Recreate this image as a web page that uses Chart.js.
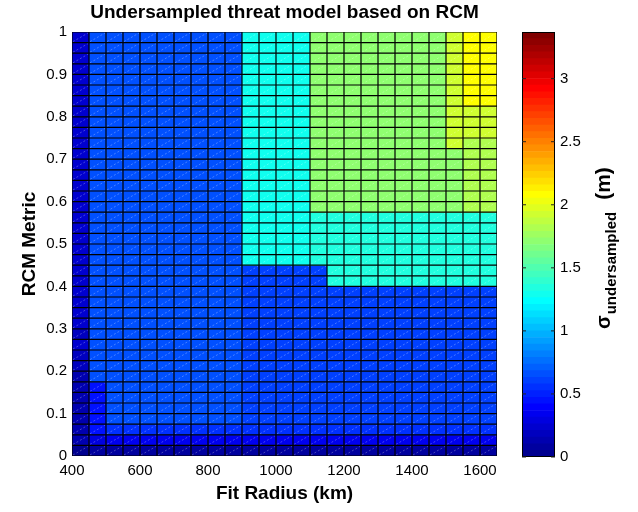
<!DOCTYPE html>
<html>
<head>
<meta charset="utf-8">
<script src="https://cdn.jsdelivr.net/npm/chart.js@4.4.1/dist/chart.umd.min.js"></script>
<style>
  html, body { margin: 0; padding: 0; background: #fff; }
  #wrap { position: relative; width: 638px; height: 512px; }
  #heat { position: absolute; left: 0; top: 0; }
  #bar { position: absolute; left: 500px; top: 0; }
</style>
</head>
<body>
<div id="wrap">
  <canvas id="heat" width="638" height="512"></canvas>
  <canvas id="bar" width="138" height="512"></canvas>
</div>
<script>
// cell edges (Fit Radius in km, RCM metric)
const xEdges = [400, 450, 500, 550, 600, 650, 700, 750, 800, 850, 900, 950, 1000,
                1050, 1100, 1150, 1200, 1250, 1300, 1350, 1400, 1450, 1500, 1550, 1600, 1650];
const yEdges = [0, 0.025, 0.05, 0.075, 0.1, 0.125, 0.15, 0.175, 0.2, 0.225, 0.25, 0.275,
                0.3, 0.325, 0.35, 0.375, 0.4, 0.425, 0.45, 0.475, 0.5, 0.525, 0.55, 0.575,
                0.6, 0.625, 0.65, 0.675, 0.7, 0.725, 0.75, 0.775, 0.8, 0.825, 0.85, 0.875,
                0.9, 0.925, 0.95, 0.975, 1];

// sigma undersampled (m), one row per RCM band, first row = bottom
const sigma = [
  [0.03,0.08,0.08,0.08,0.08,0.08,0.08,0.08,0.08,0.08,0.08,0.08,0.08,0.08,0.08,0.08,0.08,0.08,0.08,0.08,0.08,0.08,0.08,0.08,0.08],
  [0.13,0.28,0.34,0.34,0.34,0.34,0.34,0.34,0.34,0.34,0.34,0.34,0.34,0.34,0.34,0.34,0.34,0.34,0.34,0.34,0.34,0.34,0.34,0.34,0.34],
  [0.13,0.45,0.55,0.55,0.55,0.55,0.55,0.55,0.55,0.55,0.55,0.55,0.55,0.55,0.55,0.55,0.55,0.55,0.55,0.55,0.55,0.55,0.55,0.55,0.55],
  [0.13,0.45,0.66,0.66,0.66,0.66,0.66,0.66,0.66,0.66,0.61,0.61,0.61,0.61,0.61,0.61,0.61,0.61,0.61,0.61,0.61,0.61,0.61,0.61,0.61],
  [0.13,0.45,0.66,0.66,0.66,0.66,0.66,0.66,0.66,0.66,0.61,0.61,0.61,0.61,0.61,0.61,0.61,0.61,0.61,0.61,0.61,0.61,0.61,0.61,0.61],
  [0.13,0.45,0.66,0.66,0.66,0.66,0.66,0.66,0.66,0.66,0.61,0.61,0.61,0.61,0.61,0.61,0.61,0.61,0.61,0.61,0.61,0.61,0.61,0.61,0.61],
  [0.13,0.45,0.66,0.66,0.66,0.66,0.66,0.66,0.66,0.66,0.61,0.61,0.61,0.61,0.61,0.61,0.61,0.61,0.61,0.61,0.61,0.61,0.61,0.61,0.61],
  [0.13,0.66,0.66,0.66,0.66,0.66,0.66,0.66,0.66,0.66,0.61,0.61,0.61,0.61,0.61,0.61,0.61,0.61,0.61,0.61,0.61,0.61,0.61,0.61,0.61],
  [0.18,0.66,0.66,0.66,0.66,0.66,0.66,0.66,0.66,0.66,0.61,0.61,0.61,0.61,0.61,0.61,0.61,0.61,0.61,0.61,0.61,0.61,0.61,0.61,0.61],
  [0.18,0.66,0.66,0.66,0.66,0.66,0.66,0.66,0.66,0.66,0.61,0.61,0.61,0.61,0.61,0.61,0.61,0.61,0.61,0.61,0.61,0.61,0.61,0.61,0.61],
  [0.24,0.66,0.66,0.66,0.66,0.66,0.66,0.66,0.66,0.66,0.61,0.61,0.61,0.61,0.61,0.61,0.61,0.61,0.61,0.61,0.61,0.61,0.61,0.61,0.61],
  [0.18,0.66,0.66,0.66,0.66,0.66,0.66,0.66,0.66,0.66,0.61,0.61,0.61,0.61,0.61,0.61,0.61,0.61,0.61,0.61,0.61,0.61,0.61,0.61,0.61],
  [0.24,0.66,0.66,0.66,0.66,0.66,0.66,0.66,0.66,0.66,0.61,0.61,0.61,0.61,0.61,0.61,0.61,0.61,0.61,0.61,0.61,0.61,0.61,0.61,0.61],
  [0.24,0.66,0.66,0.66,0.66,0.66,0.66,0.66,0.66,0.66,0.61,0.61,0.61,0.61,0.61,0.61,0.61,0.61,0.61,0.61,0.61,0.61,0.61,0.61,0.61],
  [0.24,0.66,0.66,0.66,0.66,0.66,0.66,0.66,0.66,0.66,0.61,0.61,0.61,0.61,0.61,0.61,0.61,0.61,0.61,0.61,0.61,0.61,0.61,0.61,0.61],
  [0.24,0.66,0.66,0.66,0.66,0.66,0.66,0.66,0.66,0.66,0.61,0.61,0.61,0.61,0.61,0.61,0.61,0.61,0.61,0.61,0.61,0.61,0.61,0.61,0.61],
  [0.24,0.66,0.66,0.66,0.66,0.66,0.66,0.66,0.66,0.66,0.61,0.61,0.61,0.61,0.61,1.34,1.34,1.34,1.34,1.34,1.34,1.34,1.34,1.34,1.34],
  [0.24,0.66,0.66,0.66,0.66,0.66,0.66,0.66,0.66,0.66,0.61,0.61,0.61,0.61,0.61,1.34,1.34,1.34,1.34,1.34,1.34,1.34,1.34,1.34,1.34],
  [0.24,0.66,0.66,0.66,0.66,0.66,0.66,0.66,0.66,0.66,1.29,1.29,1.29,1.29,1.34,1.34,1.34,1.34,1.34,1.34,1.34,1.34,1.34,1.34,1.34],
  [0.24,0.66,0.66,0.66,0.66,0.66,0.66,0.66,0.66,0.66,1.29,1.29,1.29,1.29,1.34,1.34,1.34,1.34,1.34,1.34,1.34,1.34,1.34,1.34,1.34],
  [0.24,0.66,0.66,0.66,0.66,0.66,0.66,0.66,0.66,0.66,1.29,1.29,1.29,1.29,1.34,1.34,1.34,1.34,1.34,1.34,1.34,1.34,1.34,1.34,1.34],
  [0.24,0.66,0.66,0.66,0.66,0.66,0.66,0.66,0.66,0.66,1.29,1.29,1.29,1.29,1.34,1.34,1.34,1.34,1.34,1.34,1.34,1.34,1.34,1.34,1.34],
  [0.24,0.66,0.66,0.66,0.66,0.66,0.66,0.66,0.66,0.66,1.29,1.29,1.29,1.29,1.34,1.34,1.34,1.34,1.34,1.34,1.34,1.34,1.34,1.34,1.34],
  [0.24,0.66,0.66,0.66,0.66,0.66,0.66,0.66,0.66,0.66,1.29,1.29,1.29,1.29,1.71,1.71,1.71,1.71,1.71,1.71,1.71,1.71,1.71,1.82,1.82],
  [0.24,0.66,0.66,0.66,0.66,0.66,0.66,0.66,0.66,0.66,1.29,1.29,1.29,1.29,1.71,1.71,1.71,1.71,1.71,1.71,1.71,1.71,1.71,1.82,1.82],
  [0.24,0.66,0.66,0.66,0.66,0.66,0.66,0.66,0.66,0.66,1.29,1.29,1.29,1.29,1.71,1.71,1.71,1.71,1.71,1.71,1.71,1.71,1.71,1.82,1.82],
  [0.24,0.66,0.66,0.66,0.66,0.66,0.66,0.66,0.66,0.66,1.29,1.29,1.29,1.29,1.71,1.71,1.71,1.71,1.71,1.71,1.71,1.71,1.71,1.82,1.82],
  [0.24,0.66,0.66,0.66,0.66,0.66,0.66,0.66,0.66,0.66,1.29,1.29,1.29,1.29,1.71,1.71,1.71,1.71,1.71,1.71,1.71,1.71,1.71,1.82,1.82],
  [0.24,0.66,0.66,0.66,0.66,0.66,0.66,0.66,0.66,0.66,1.29,1.29,1.29,1.29,1.71,1.71,1.71,1.71,1.71,1.71,1.71,1.71,1.71,1.82,1.82],
  [0.24,0.66,0.66,0.66,0.66,0.66,0.66,0.66,0.66,0.66,1.29,1.29,1.29,1.29,1.71,1.71,1.71,1.71,1.71,1.71,1.71,1.71,1.92,1.82,1.82],
  [0.24,0.66,0.66,0.66,0.66,0.66,0.66,0.66,0.66,0.66,1.29,1.29,1.29,1.29,1.71,1.71,1.71,1.71,1.71,1.71,1.71,1.71,1.92,1.92,1.92],
  [0.24,0.66,0.66,0.66,0.66,0.66,0.66,0.66,0.66,0.66,1.29,1.29,1.29,1.29,1.71,1.71,1.71,1.71,1.71,1.71,1.71,1.71,1.92,1.92,1.92],
  [0.24,0.66,0.66,0.66,0.66,0.66,0.66,0.66,0.66,0.66,1.29,1.29,1.29,1.29,1.71,1.71,1.71,1.71,1.71,1.71,1.71,1.71,1.92,1.92,1.92],
  [0.24,0.66,0.66,0.66,0.66,0.66,0.66,0.66,0.66,0.66,1.29,1.29,1.29,1.29,1.71,1.71,1.71,1.71,1.71,1.71,1.71,1.71,1.92,2.08,2.08],
  [0.24,0.66,0.66,0.66,0.66,0.66,0.66,0.66,0.66,0.66,1.29,1.29,1.29,1.29,1.71,1.71,1.71,1.71,1.71,1.71,1.71,1.71,1.92,2.08,2.08],
  [0.24,0.66,0.66,0.66,0.66,0.66,0.66,0.66,0.66,0.66,1.29,1.29,1.29,1.29,1.71,1.71,1.71,1.71,1.71,1.71,1.71,1.71,1.92,2.08,2.08],
  [0.24,0.66,0.66,0.66,0.66,0.66,0.66,0.66,0.66,0.66,1.29,1.29,1.29,1.29,1.71,1.71,1.71,1.71,1.71,1.71,1.71,1.71,1.92,2.08,2.08],
  [0.24,0.66,0.66,0.66,0.66,0.66,0.66,0.66,0.66,0.66,1.29,1.29,1.29,1.29,1.71,1.71,1.71,1.71,1.71,1.71,1.71,1.71,1.92,2.08,2.08],
  [0.24,0.66,0.66,0.66,0.66,0.66,0.66,0.66,0.66,0.66,1.29,1.29,1.29,1.29,1.71,1.71,1.71,1.71,1.71,1.71,1.71,1.71,1.92,2.08,2.08],
  [0.24,0.66,0.66,0.66,0.66,0.66,0.66,0.66,0.66,0.66,1.29,1.29,1.29,1.29,1.71,1.71,1.71,1.71,1.71,1.71,1.71,1.71,1.92,2.08,2.08]
];

// colour limits of the colorbar
const cMin = 0;
const cMax = 3.37;
const nColors = 64;

const FONT = '"Liberation Sans", Arial, Helvetica, sans-serif';

// matlab jet, k = 1..64
function jet(k) {
  const t = k / nColors;
  const f = v => Math.round(255 * Math.max(0, Math.min(1, 1.5 - Math.abs(4 * t - v))));
  return 'rgb(' + f(3) + ',' + f(2) + ',' + f(1) + ')';
}
function colorFor(v) {
  let k = Math.floor((v - cMin) / (cMax - cMin) * nColors) + 1;
  k = Math.max(1, Math.min(nColors, k));
  return jet(k);
}
// plain tick text, no thousands separator, no trailing zero
const plainTick = v => String(Math.round(v * 10) / 10);

// draws the cells, the faint diagonals and the black cell edges
const heatPlugin = {
  id: 'heat',
  beforeDatasetsDraw(chart) {
    const {ctx, chartArea, scales: {x, y}} = chart;
    ctx.save();
    ctx.beginPath();
    ctx.rect(chartArea.left, chartArea.top, chartArea.right - chartArea.left, chartArea.bottom - chartArea.top);
    ctx.clip();
    for (let r = 0; r < sigma.length; r++) {
      const y0 = y.getPixelForValue(yEdges[r]);
      const y1 = y.getPixelForValue(yEdges[r + 1]);
      for (let c = 0; c < sigma[r].length; c++) {
        const x0 = x.getPixelForValue(xEdges[c]);
        const x1 = x.getPixelForValue(xEdges[c + 1]);
        ctx.fillStyle = colorFor(sigma[r][c]);
        ctx.fillRect(x0, y1, x1 - x0 + 0.6, y0 - y1 + 0.6);
      }
    }
    // diagonal artefacts of the triangulated surface
    ctx.strokeStyle = 'rgba(255,255,255,0.28)';
    ctx.lineWidth = 1;
    ctx.setLineDash([2, 2]);
    ctx.beginPath();
    for (let r = 0; r < sigma.length; r++) {
      const y0 = y.getPixelForValue(yEdges[r]);
      const y1 = y.getPixelForValue(yEdges[r + 1]);
      for (let c = 0; c < sigma[r].length; c++) {
        const x0 = x.getPixelForValue(xEdges[c]);
        const x1 = x.getPixelForValue(xEdges[c + 1]);
        ctx.moveTo(x0 + 1, y0 - 1);
        ctx.lineTo(x1 - 1, y1 + 1);
      }
    }
    ctx.stroke();
    ctx.setLineDash([]);
    // edges
    ctx.strokeStyle = '#000';
    ctx.lineWidth = 1.2;
    ctx.beginPath();
    xEdges.forEach(v => {
      const p = x.getPixelForValue(v);
      ctx.moveTo(p, chartArea.top);
      ctx.lineTo(p, chartArea.bottom);
    });
    yEdges.forEach(v => {
      const p = y.getPixelForValue(v);
      ctx.moveTo(chartArea.left, p);
      ctx.lineTo(chartArea.right, p);
    });
    ctx.stroke();
    ctx.restore();
  },
  afterDraw(chart) {
    const {ctx, chartArea} = chart;
    ctx.save();
    ctx.font = 'bold 19px ' + FONT;
    ctx.fillStyle = '#000';
    ctx.textAlign = 'center';
    ctx.textBaseline = 'alphabetic';
    ctx.fillText('Undersampled threat model based on RCM', (chartArea.left + chartArea.right) / 2, 18);
    ctx.restore();
  }
};

new Chart(document.getElementById('heat'), {
  type: 'scatter',
  data: { datasets: [{ data: [], pointRadius: 0 }] },
  options: {
    responsive: false,
    animation: false,
    layout: { padding: { top: 32, right: 141, left: 0, bottom: 0 } },
    plugins: { legend: { display: false }, tooltip: { enabled: false }, title: { display: false } },
    scales: {
      x: {
        type: 'linear', min: 400, max: 1650,
        afterFit: s => { s.height = 56; },
        grid: { display: false, drawTicks: false },
        border: { display: false },
        ticks: { stepSize: 200, includeBounds: false, padding: 6, color: '#000', font: { family: FONT, size: 15 },
                 callback: plainTick },
        title: { display: true, text: 'Fit Radius (km)', color: '#000', padding: { bottom: 7 }, font: { family: FONT, size: 19, weight: 'bold' } }
      },
      y: {
        type: 'linear', min: 0, max: 1,
        afterFit: s => { s.width = 72; },
        grid: { display: false, drawTicks: false },
        border: { display: false },
        ticks: { stepSize: 0.1, padding: 5, color: '#000', font: { family: FONT, size: 15 },
                 callback: plainTick },
        title: { display: true, text: 'RCM Metric', color: '#000', padding: { top: 18 }, font: { family: FONT, size: 19, weight: 'bold' } }
      }
    }
  },
  plugins: [heatPlugin]
});

// colorbar
const cbDatasets = [];
for (let k = 1; k <= nColors; k++) {
  cbDatasets.push({
    data: [(cMax - cMin) / nColors],
    backgroundColor: jet(k),
    borderWidth: 0,
    barPercentage: 1,
    categoryPercentage: 1,
    stack: 'cb'
  });
}

const cbPlugin = {
  id: 'cbFrame',
  afterDatasetsDraw(chart) {
    const {ctx, chartArea, scales: {y}} = chart;
    ctx.save();
    ctx.strokeStyle = '#000';
    ctx.lineWidth = 1;
    ctx.strokeRect(chartArea.left + 0.5, chartArea.top + 0.5, chartArea.right - chartArea.left - 1, chartArea.bottom - chartArea.top - 1);
    ctx.strokeStyle = '#222';
    ctx.beginPath();
    y.ticks.forEach(t => {
      const p = y.getPixelForValue(t.value);
      ctx.moveTo(chartArea.left, p);
      ctx.lineTo(chartArea.left + 4, p);
      ctx.moveTo(chartArea.right - 4, p);
      ctx.lineTo(chartArea.right, p);
    });
    ctx.stroke();
    ctx.restore();
  },
  afterDraw(chart) {
    const {ctx} = chart;
    ctx.save();
    ctx.translate(110, 329);
    ctx.rotate(-Math.PI / 2);
    ctx.fillStyle = '#000';
    ctx.textBaseline = 'alphabetic';
    ctx.textAlign = 'left';
    ctx.font = 'bold 20px ' + FONT;
    ctx.fillText('σ', 0, 0);
    const w1 = ctx.measureText('σ').width;
    ctx.font = 'bold 15px ' + FONT;
    ctx.fillText('undersampled', w1 + 1, 6);
    const w2 = ctx.measureText('undersampled').width;
    ctx.font = 'bold 21px ' + FONT;
    ctx.fillText('(m)', w1 + w2 + 13, 0);
    ctx.restore();
  }
};

new Chart(document.getElementById('bar'), {
  type: 'bar',
  data: { labels: [''], datasets: cbDatasets },
  options: {
    responsive: false,
    animation: false,
    layout: { padding: { top: 32, left: 22, right: 0, bottom: 55 } },
    plugins: { legend: { display: false }, tooltip: { enabled: false } },
    scales: {
      x: { display: false, stacked: true },
      y: {
        stacked: true, position: 'right', min: cMin, max: cMax,
        afterFit: s => { s.width = 83; },
        grid: { display: false, drawTicks: false },
        border: { display: false },
        ticks: { stepSize: 0.5, includeBounds: false, padding: 5, color: '#000', font: { family: FONT, size: 15 },
                 callback: plainTick }
      }
    }
  },
  plugins: [cbPlugin]
});
</script>
</body>
</html>
